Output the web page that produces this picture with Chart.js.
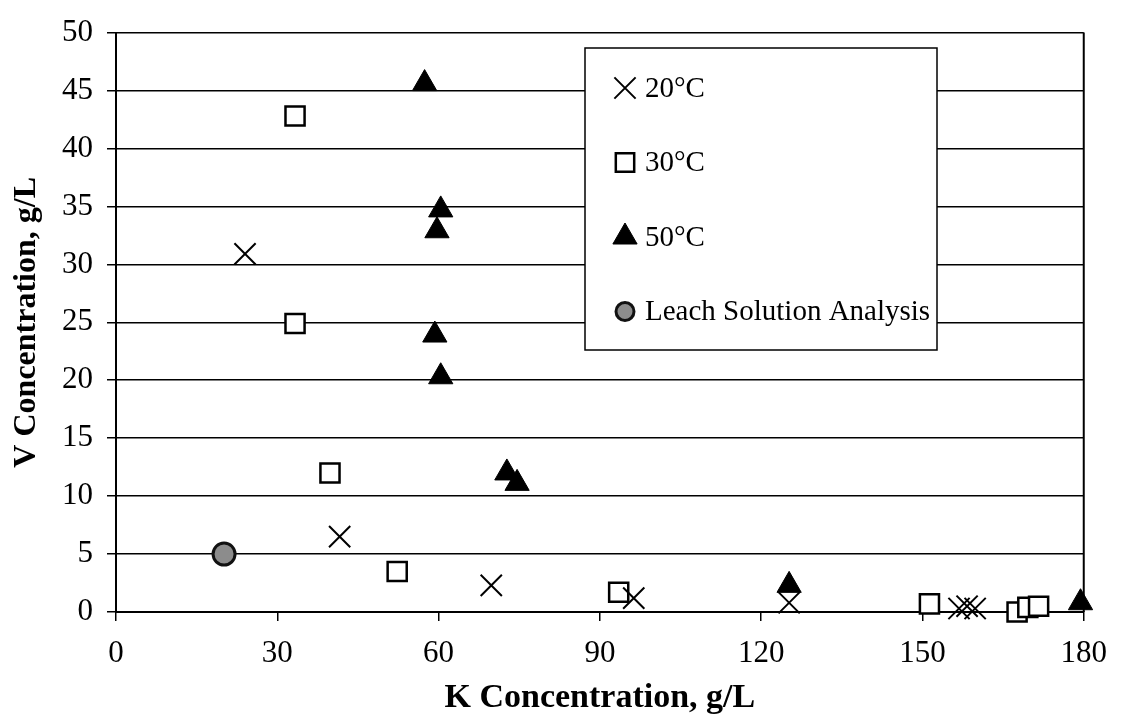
<!DOCTYPE html>
<html>
<head>
<meta charset="utf-8">
<script src="https://cdn.jsdelivr.net/npm/chart.js@4.4.1/dist/chart.umd.min.js"></script>
<style>
    html, body { margin: 0; padding: 0; background: #fff; }
    #wrap { width: 1121px; height: 725px; }
</style>
</head>
<body>
<div id="wrap"><canvas id="chart" width="1121" height="725"></canvas></div>
<script>
// Data (K and V concentrations, g/L)
const k20 = [24.0, 41.6, 69.8, 96.3, 125.2, 156.8, 158.3, 159.8];
const v20 = [30.9, 6.5, 2.3, 1.2, 0.8, 0.3, 0.5, 0.3];

const k30 = [33.3, 33.3, 39.8, 52.3, 93.5, 151.3, 167.6, 169.6, 171.6];
const v30 = [42.8, 24.9, 12.0, 3.5, 1.7, 0.7, 0.0, 0.4, 0.5];

const k50 = [57.4, 60.4, 59.7, 59.3, 60.4, 72.7, 74.6, 125.2, 179.4];
const v50 = [45.6, 34.7, 32.9, 23.9, 20.3, 12.0, 11.1, 2.3, 0.8];

const kLeach = [20.1];
const vLeach = [5.0];

const seriesLabels = ['20°C', '30°C', '50°C', 'Leach Solution Analysis'];
const xTicks = [0, 30, 60, 90, 120, 150, 180];
const yTicks = [0, 5, 10, 15, 20, 25, 30, 35, 40, 45, 50];

const serif = "'Liberation Serif', 'Times New Roman', serif";

function toPoints(xs, ys) {
    return xs.map((x, i) => ({ x: x, y: ys[i] }));
}

// Legend drawn inside the plot area, boxed like the original
const boxLegend = {
    id: 'boxLegend',
    afterDraw(chart) {
        const ctx = chart.ctx;
        const left = 585, top = 48, width = 352, height = 302;
        ctx.save();
        ctx.fillStyle = '#fff';
        ctx.fillRect(left, top, width, height);
        ctx.strokeStyle = '#000';
        ctx.lineWidth = 1.5;
        ctx.strokeRect(left, top, width, height);

        chart.data.datasets.forEach((ds, i) => {
            const y = top + 40 + i * 74.5;
            const x = left + 40;
            ctx.fillStyle = ds.backgroundColor;
            ctx.strokeStyle = ds.borderColor;
            ctx.lineWidth = ds.borderWidth;
            Chart.helpers.drawPoint(ctx, {
                pointStyle: ds.pointStyle,
                radius: ds.legendRadius,
                rotation: 0,
                borderWidth: ds.borderWidth
            }, x, y);

            ctx.fillStyle = '#000';
            ctx.font = '29px ' + serif;
            ctx.textBaseline = 'middle';
            ctx.textAlign = 'left';
            ctx.fillText(ds.label, left + 60, y + 1);
        });
        ctx.restore();
    }
};

const chart = new Chart(document.getElementById('chart'), {
    type: 'scatter',
    data: {
        datasets: [{
            label: seriesLabels[0],
            data: toPoints(k20, v20),
            pointStyle: 'crossRot',
            pointRadius: 15,
            legendRadius: 15,
            borderColor: '#000',
            backgroundColor: '#000',
            borderWidth: 2,
            clip: false
        }, {
            label: seriesLabels[1],
            data: toPoints(k30, v30),
            pointStyle: 'rect',
            pointRadius: 13.5,
            legendRadius: 13,
            borderColor: '#000',
            backgroundColor: '#fff',
            borderWidth: 2.5,
            clip: false
        }, {
            label: seriesLabels[2],
            data: toPoints(k50, v50),
            pointStyle: 'triangle',
            pointRadius: 14,
            legendRadius: 14,
            borderColor: '#000',
            backgroundColor: '#000',
            borderWidth: 1,
            clip: false
        }, {
            label: seriesLabels[3],
            data: toPoints(kLeach, vLeach),
            pointStyle: 'circle',
            pointRadius: 11,
            legendRadius: 9,
            borderColor: '#111',
            backgroundColor: '#8c8c8c',
            borderWidth: 3,
            clip: false
        }]
    },
    options: {
        responsive: false,
        animation: false,
        layout: {
            padding: { left: 8, right: 37, top: 23, bottom: 6 }
        },
        plugins: {
            legend: { display: false },
            tooltip: { enabled: false }
        },
        scales: {
            x: {
                type: 'linear',
                min: 0,
                max: 180,
                afterBuildTicks: (scale) => {
                    scale.ticks = xTicks.map(v => ({ value: v }));
                },
                afterFit: (scale) => { scale.height = 107; },
                ticks: {
                    color: '#000',
                    font: { family: serif, size: 31 },
                    padding: 14
                },
                grid: {
                    drawOnChartArea: false,
                    drawTicks: true,
                    tickLength: 9,
                    color: '#000',
                    lineWidth: 1.5
                },
                border: { display: true, color: '#000', width: 2 },
                title: {
                    display: true,
                    text: 'K Concentration, g/L',
                    color: '#000',
                    font: { family: serif, size: 34, weight: 'bold' },
                    padding: { top: 0, bottom: 0 }
                }
            },
            y: {
                type: 'linear',
                min: 0,
                max: 50,
                afterBuildTicks: (scale) => {
                    scale.ticks = yTicks.map(v => ({ value: v }));
                },
                afterFit: (scale) => { scale.width = 108; },
                ticks: {
                    color: '#000',
                    font: { family: serif, size: 31 },
                    padding: 14
                },
                grid: {
                    color: '#000',
                    lineWidth: 1.5,
                    drawTicks: true,
                    tickLength: 9
                },
                border: { display: true, color: '#000', width: 2 },
                title: {
                    display: true,
                    text: 'V Concentration, g/L',
                    color: '#000',
                    font: { family: serif, size: 32, weight: 'bold' },
                    padding: { top: 0, bottom: 6 }
                }
            }
        }
    },
    plugins: [boxLegend, {
        id: 'rightBorder',
        afterDatasetsDraw(chart) {
            const a = chart.chartArea;
            const ctx = chart.ctx;
            ctx.save();
            ctx.strokeStyle = '#000';
            ctx.lineWidth = 2;
            ctx.beginPath();
            ctx.moveTo(a.right, a.top);
            ctx.lineTo(a.right, a.bottom);
            ctx.stroke();
            ctx.restore();
        }
    }]
});
</script>
</body>
</html>
